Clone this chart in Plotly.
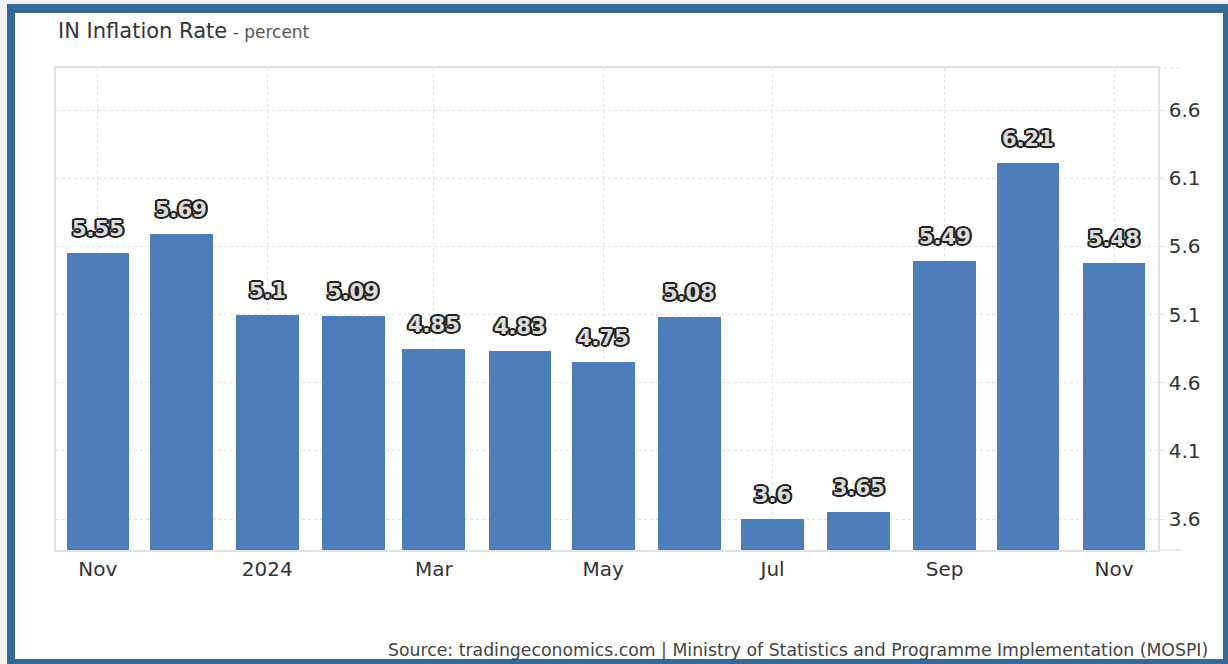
import plotly.graph_objects as go

# Monthly CPI inflation, India (percent)
months = [
    "2023-11-01", "2023-12-01", "2024-01-01", "2024-02-01", "2024-03-01",
    "2024-04-01", "2024-05-01", "2024-06-01", "2024-07-01", "2024-08-01",
    "2024-09-01", "2024-10-01", "2024-11-01",
]
inflation = [5.55, 5.69, 5.1, 5.09, 4.85, 4.83, 4.75, 5.08, 3.6, 3.65, 5.49, 6.21, 5.48]

tick_dates = ["2023-11-01", "2024-01-01", "2024-03-01", "2024-05-01",
              "2024-07-01", "2024-09-01", "2024-11-01"]
tick_labels = ["Nov", "2024", "Mar", "May", "Jul", "Sep", "Nov"]
y_ticks = [3.6, 4.1, 4.6, 5.1, 5.6, 6.1, 6.6]

title_text = "IN Inflation Rate"
subtitle_text = " - percent"
source_text = ("Source: tradingeconomics.com | Ministry of Statistics and "
               "Programme Implementation (MOSPI)")

# canvas and plot-area geometry (pixels)
W, H = 1228, 664
L, R, T, B = 56, 70, 68, 114
PW, PH = W - L - R, H - T - B


def px(x):
    return (x - L) / PW


def py(y):
    return (H - B - y) / PH


BAR_COLOR = "#4a7db9"
FRAME_BLUE = "#35699a"
GRID = "#e0e0e0"
AXIS_LINE = "#e2e2e2"
TEXT = "#333333"
FONT = "DejaVu Sans"

outline = ", ".join(
    f"{dx}px {dy}px 0 #222222"
    for dx, dy in [(-1, -1), (1, -1), (-1, 1), (1, 1), (2, 0), (-2, 0), (0, 2), (0, -2),
                   (2, 1), (-2, 1), (2, -1), (-2, -1)]
)

fig = go.Figure()
fig.add_trace(go.Bar(
    x=months,
    y=inflation,
    width=22.6 * 86400000,
    marker=dict(color=BAR_COLOR, line=dict(width=0)),
    hoverinfo="x+y",
))

annotations = []
for m, v in zip(months, inflation):
    annotations.append(dict(
        x=m, y=v, xref="x", yref="y",
        text=f"{v:g}", showarrow=False,
        xanchor="center", yanchor="bottom", yshift=10,
        font=dict(family=FONT, size=21, weight="bold", color="#dcdcdc", shadow=outline),
    ))

annotations.append(dict(
    x=px(56), y=py(31), xref="paper", yref="paper",
    xanchor="left", yanchor="middle", showarrow=False,
    text=f"{title_text}<span style='font-size:17px;color:#555555'>{subtitle_text}</span>",
    font=dict(family=FONT, size=21, color=TEXT),
))
annotations.append(dict(
    x=px(1210), y=py(650), xref="paper", yref="paper",
    xanchor="right", yanchor="middle", showarrow=False,
    text=source_text,
    font=dict(family=FONT, size=17.3, color="#444444"),
))

shapes = [
    # outer frame
    dict(type="rect", xref="paper", yref="paper", layer="below",
         x0=px(7), x1=px(W + 5), y0=py(4), y1=py(H + 5),
         fillcolor=FRAME_BLUE, line=dict(width=0)),
    dict(type="rect", xref="paper", yref="paper", layer="below",
         x0=px(15), x1=px(1223), y0=py(13), y1=py(659),
         fillcolor="white", line=dict(width=0)),
    # axis lines running a little past the value axis
    dict(type="line", xref="paper", yref="paper", layer="below",
         x0=1, x1=px(1182), y0=0, y1=0, line=dict(color=AXIS_LINE, width=1.5)),
    dict(type="line", xref="paper", yref="paper", layer="below",
         x0=1, x1=px(1182), y0=1, y1=1, line=dict(color=GRID, width=1, dash="dot")),
]

fig.update_layout(
    width=W, height=H,
    margin=dict(l=L, r=R, t=T, b=B),
    paper_bgcolor="#f2f2f2",
    plot_bgcolor="rgba(0,0,0,0)",
    showlegend=False,
    bargap=0,
    annotations=annotations,
    shapes=shapes,
    font=dict(family=FONT, color=TEXT),
)

fig.update_xaxes(
    type="date",
    range=["2023-10-16 22:00", "2024-11-16 20:00"],
    tickvals=tick_dates, ticktext=tick_labels,
    tickfont=dict(family=FONT, size=20, color=TEXT),
    showgrid=True, gridcolor=GRID, griddash="dot", gridwidth=1,
    showline=True, linecolor=AXIS_LINE, linewidth=1.5, mirror=True,
    ticks="", ticklabelstandoff=0,
    zeroline=False,
)
fig.update_yaxes(
    side="right",
    range=[3.373, 6.908],
    tickvals=y_ticks, ticktext=[f"{t:.1f}" for t in y_ticks],
    tickfont=dict(family=FONT, size=20, color=TEXT),
    showgrid=True, gridcolor=GRID, griddash="dot", gridwidth=1,
    showline=True, linecolor=AXIS_LINE, linewidth=1.5, mirror=True,
    ticks="outside", ticklen=5, tickcolor=AXIS_LINE,
    zeroline=False,
)

fig.write_html("out.html")
